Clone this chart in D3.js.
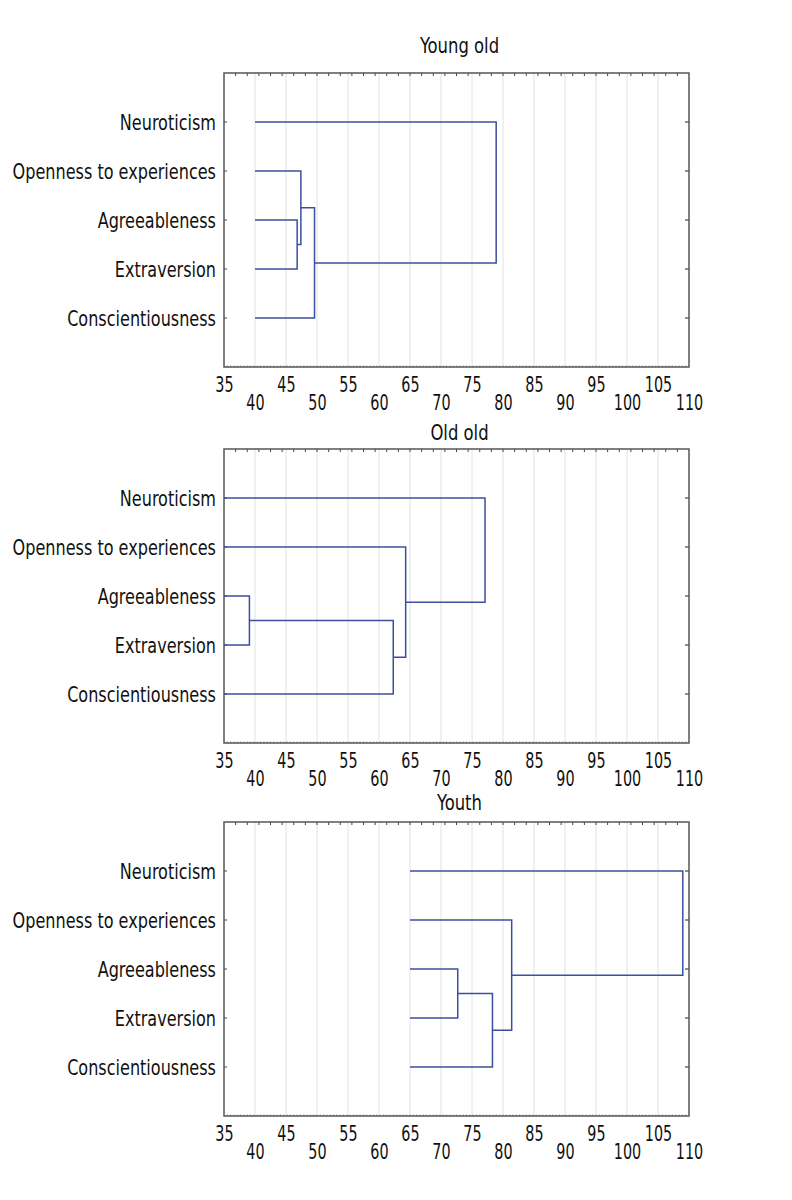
<!DOCTYPE html>
<html>
<head>
<meta charset="utf-8">
<script src="https://cdn.jsdelivr.net/npm/d3@7"></script>
<style>
  html, body { margin: 0; padding: 0; background: #fff; }
  svg text { font-family: "Liberation Sans Narrow", "DejaVu Sans Condensed", "Arial Narrow", sans-serif; fill: #111; }
</style>
</head>
<body>
<svg id="chart" width="792" height="1200"></svg>
<script>
// ---- data ----
const categories = ["Neuroticism", "Openness to experiences", "Agreeableness", "Extraversion", "Conscientiousness"];
const panelTitles = ["Young old", "Old old", "Youth"];
const tickValues = [35, 40, 45, 50, 55, 60, 65, 70, 75, 80, 85, 90, 95, 100, 105, 110];
// leaf start (linkage distance where leaves begin) per panel
const leafStart = [40, 35, 65];
// merges: [childA, childB, linkage distance]; leaves are 0..4, new nodes 5,6,7,8
const youngOldMerges = [[2, 3, 46.8], [1, 5, 47.4], [6, 4, 49.6], [0, 7, 78.9]];
const oldOldMerges   = [[2, 3, 39.1], [5, 4, 62.3], [1, 6, 64.3], [0, 7, 77.1]];
const youthMerges    = [[2, 3, 72.7], [5, 4, 78.3], [1, 6, 81.4], [0, 7, 109.0]];
const mergesByPanel = [youngOldMerges, oldOldMerges, youthMerges];

// ---- layout ----
const left = 224, right = 689, plotH = 294;
const panelTop = [73, 449, 822];
const titleBaseline = [53, 440, 810];
const lineColor = "#3c4f9e";

const svg = d3.select("#chart");
const x = d3.scaleLinear().domain([35, 110]).range([left, right]);

// narrow the fallback font to mimic a condensed face
function condense(sel, factor) {
  sel.each(function () {
    const len = this.getComputedTextLength();
    d3.select(this).attr("textLength", len * factor).attr("lengthAdjust", "spacingAndGlyphs");
  });
}

panelTitles.forEach((title, p) => {
  const top = panelTop[p], bottom = top + plotH;
  const y = d3.scaleLinear().domain([0, categories.length + 1]).range([top, bottom]);
  const g = svg.append("g");

  // gridlines
  g.append("g").selectAll("line")
    .data(tickValues.filter(v => v > 35 && v < 110))
    .join("line")
    .attr("x1", d => x(d)).attr("x2", d => x(d))
    .attr("y1", top).attr("y2", bottom)
    .attr("stroke", "#e2e2e2").attr("stroke-width", 1);

  // top minor ticks (inward)
  const topTicks = d3.range(1, 40).map(i => 35 + i * 75 / 40);
  g.append("g").selectAll("line").data(topTicks).join("line")
    .attr("x1", d => x(d)).attr("x2", d => x(d))
    .attr("y1", top).attr("y2", top + 3)
    .attr("stroke", "#444").attr("stroke-width", 1);

  // bottom minor ticks (inward, dense)
  const botTicks = d3.range(1, 140).map(i => 35 + i * 75 / 140);
  g.append("g").selectAll("line").data(botTicks).join("line")
    .attr("x1", d => x(d)).attr("x2", d => x(d))
    .attr("y1", bottom).attr("y2", bottom - 1.5)
    .attr("stroke", "#777").attr("stroke-width", 0.8);

  // row ticks left and right (inward)
  const rows = d3.range(1, categories.length + 1);
  g.append("g").selectAll("line").data(rows).join("line")
    .attr("x1", left).attr("x2", left + 3)
    .attr("y1", d => y(d)).attr("y2", d => y(d))
    .attr("stroke", "#444").attr("stroke-width", 1);
  g.append("g").selectAll("line").data(rows).join("line")
    .attr("x1", right - 4).attr("x2", right)
    .attr("y1", d => y(d)).attr("y2", d => y(d))
    .attr("stroke", "#444").attr("stroke-width", 1.2);

  // frame
  g.append("rect")
    .attr("x", left).attr("y", top).attr("width", right - left).attr("height", plotH)
    .attr("fill", "none").attr("stroke", "#555").attr("stroke-width", 1.5);

  // category labels
  g.append("g").selectAll("text").data(categories).join("text")
    .attr("x", left - 8).attr("y", (d, i) => y(i + 1))
    .attr("dy", "0.36em")
    .attr("text-anchor", "end")
    .attr("font-size", 21)
    .text(d => d)
    .call(condense, 0.85);

  // x axis labels (staggered)
  const axis = d3.axisBottom(x).tickValues(tickValues).tickSize(0).tickFormat(d3.format("d"));
  const ax = g.append("g").attr("transform", `translate(0,${bottom})`).call(axis);
  ax.select(".domain").remove();
  ax.selectAll("text")
    .attr("font-size", 21)
    .attr("dy", null)
    .attr("y", (d, i) => i % 2 === 0 ? 25 : 43)
    .style("font-family", "'Liberation Sans Narrow', 'DejaVu Sans Condensed', sans-serif")
    .attr("fill", "#111")
    .call(condense, 0.76);

  // title
  g.append("text")
    .attr("x", (left + right) / 2 + 3).attr("y", titleBaseline[p])
    .attr("text-anchor", "middle").attr("font-size", 21)
    .text(title)
    .call(condense, 0.87);

  // dendrogram
  const merges = mergesByPanel[p];
  const nodes = categories.map((c, i) => ({ h: leafStart[p], row: i + 1 }));
  const links = [];
  merges.forEach(([a, b, h]) => {
    const na = nodes[a], nb = nodes[b];
    links.push({ a: na, b: nb, h });
    nodes.push({ h, row: (na.row + nb.row) / 2 });
  });
  g.append("g").selectAll("path").data(links).join("path")
    .attr("d", l => `M${x(l.a.h)},${y(l.a.row)}H${x(l.h)}V${y(l.b.row)}H${x(l.b.h)}`)
    .attr("fill", "none").attr("stroke", lineColor).attr("stroke-width", 1.5);
});
</script>
</body>
</html>
